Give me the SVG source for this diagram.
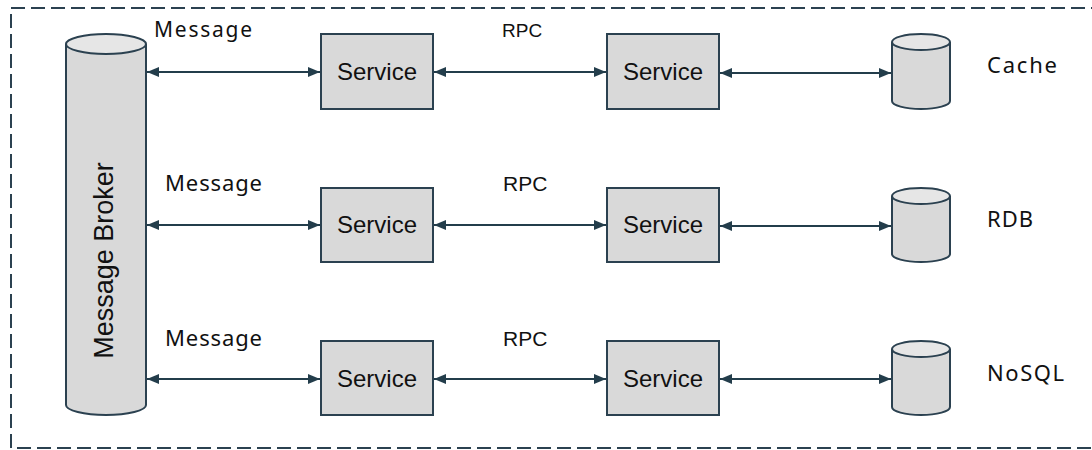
<svg xmlns="http://www.w3.org/2000/svg" width="1092" height="450" viewBox="0 0 1092 450">
<defs>
<style>
.frame{fill:none;stroke:#2b4150;stroke-width:2;stroke-dasharray:14 6}
.box{fill:#d9d9d9;stroke:#2b4150;stroke-width:2}
.cyl{fill:#d9d9d9;stroke:#2b4150;stroke-width:2}
.cyltop{fill:#e6e6e6;stroke:#2b4150;stroke-width:2}
.conn{fill:none;stroke:#233d4b;stroke-width:2;marker-start:url(#ah);marker-end:url(#ah)}
.svc{font-family:"Liberation Sans",Arial,sans-serif;font-size:24px;fill:#111;text-anchor:middle}
.rpc{font-family:"Liberation Sans",Arial,sans-serif;font-size:21px;fill:#111}
.lbl{font-family:"Noto Sans","Open Sans",sans-serif;font-size:22px;fill:#111}
</style>
<marker id="ah" viewBox="0 0 12 10" refX="12" refY="5" markerWidth="12" markerHeight="10" markerUnits="userSpaceOnUse" orient="auto-start-reverse">
<path d="M0,0 L12,5 L0,10 z" fill="#233d4b"/>
</marker>
</defs>
<rect class="frame" x="11" y="8" width="1100" height="440"/>
<g id="broker">
<path class="cyl" d="M66,44 L66,405 A40,10 0 0 0 146,405 L146,44"/>
<ellipse class="cyltop" cx="106" cy="44" rx="40" ry="10"/>
<text class="svc" transform="translate(113,260.5) rotate(-90)" style="font-size:27px">Message Broker</text>
</g>
<g id="svc1a"><rect class="box" x="321" y="34" width="112" height="75"/><text class="svc" x="377" y="80">Service</text></g>
<g id="svc1b"><rect class="box" x="607" y="34" width="112" height="75"/><text class="svc" x="663" y="80">Service</text></g>
<g id="svc2a"><rect class="box" x="321" y="188" width="112" height="74"/><text class="svc" x="377" y="233">Service</text></g>
<g id="svc2b"><rect class="box" x="607" y="188" width="112" height="74"/><text class="svc" x="663" y="233">Service</text></g>
<g id="svc3a"><rect class="box" x="321" y="341" width="112" height="74"/><text class="svc" x="377" y="387">Service</text></g>
<g id="svc3b"><rect class="box" x="607" y="341" width="112" height="74"/><text class="svc" x="663" y="387">Service</text></g>
<g id="cache">
<path class="cyl" d="M892,42 L892,101 A29,8 0 0 0 950,101 L950,42"/>
<ellipse class="cyltop" cx="921" cy="42" rx="29" ry="8"/>
<text class="lbl" x="987" y="73" textLength="70">Cache</text>
</g>
<g id="rdb">
<path class="cyl" d="M892,196 L892,254 A29,8 0 0 0 950,254 L950,196"/>
<ellipse class="cyltop" cx="921" cy="196" rx="29" ry="8"/>
<text class="lbl" x="987" y="227" textLength="46">RDB</text>
</g>
<g id="nosql">
<path class="cyl" d="M892,349 L892,407 A29,8 0 0 0 950,407 L950,349"/>
<ellipse class="cyltop" cx="921" cy="349" rx="29" ry="8"/>
<text class="lbl" x="987" y="381" textLength="77">NoSQL</text>
</g>
<g id="connectors">
<line class="conn" x1="147" y1="72" x2="320" y2="72"/>
<line class="conn" x1="434" y1="72" x2="606" y2="72"/>
<line class="conn" x1="720" y1="73" x2="891" y2="73"/>
<line class="conn" x1="147" y1="225" x2="320" y2="225"/>
<line class="conn" x1="434" y1="225" x2="606" y2="225"/>
<line class="conn" x1="720" y1="226" x2="891" y2="226"/>
<line class="conn" x1="147" y1="379" x2="320" y2="379"/>
<line class="conn" x1="434" y1="379" x2="606" y2="379"/>
<line class="conn" x1="720" y1="379" x2="891" y2="379"/>
<text class="lbl" x="154" y="37" textLength="98" style="font-size:21px">Message</text>
<text class="lbl" x="165" y="191" textLength="97">Message</text>
<text class="lbl" x="165" y="346" textLength="97">Message</text>
<text class="rpc" x="502" y="37" style="font-size:19px">RPC</text>
<text class="rpc" x="503" y="191">RPC</text>
<text class="rpc" x="503" y="346">RPC</text>
</g>
</svg>
